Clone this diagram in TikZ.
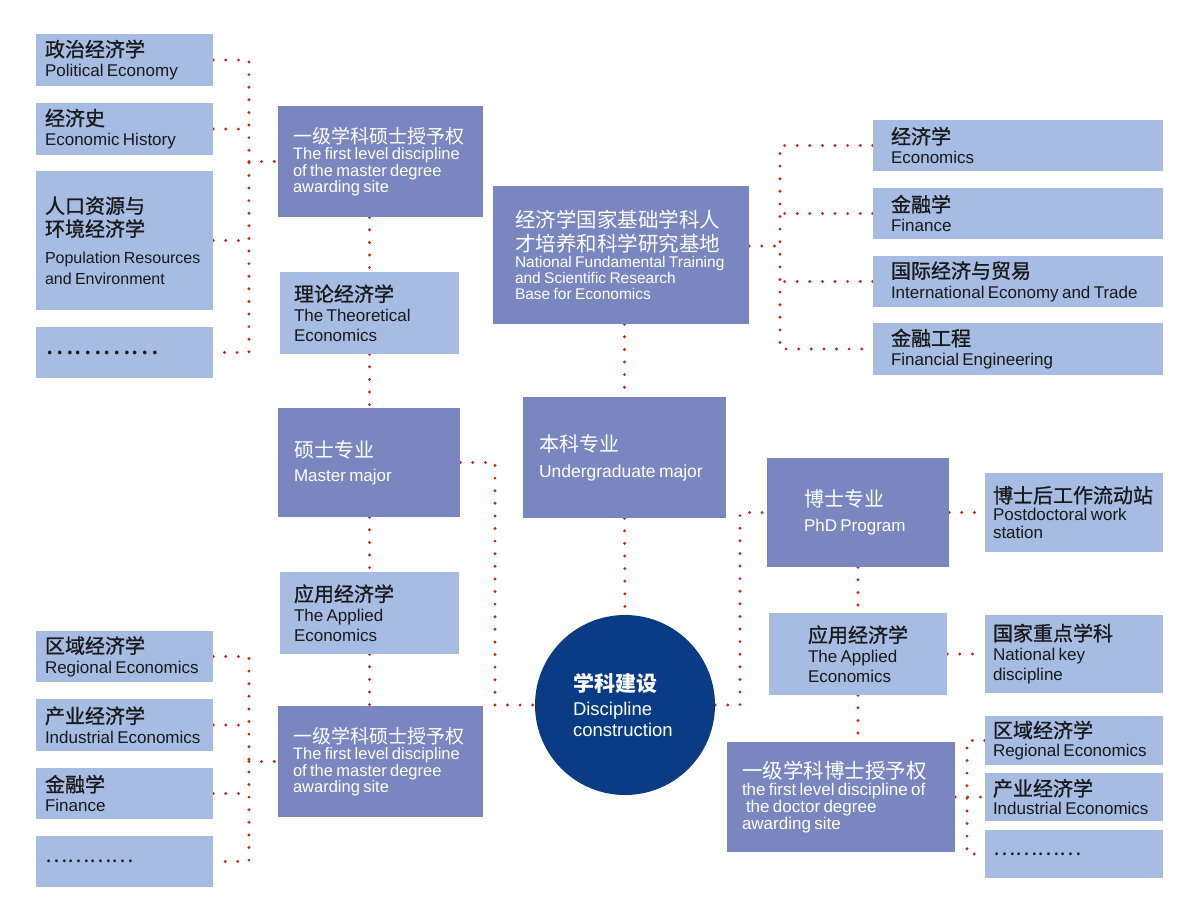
\documentclass[tikz,border=0pt]{standalone}
\usepackage{fontspec}
\setmainfont{Liberation Sans}
\newfontfamily\cjk{Noto Sans CJK SC}
\newfontfamily\cjkm[FakeBold=1]{Noto Sans CJK SC}
\usetikzlibrary{backgrounds}

\definecolor{boxdark}{HTML}{7A86C0}
\definecolor{boxlight}{HTML}{A6BCE3}
\definecolor{circblue}{HTML}{0A3C85}
\definecolor{dotred}{HTML}{C4261C}

% one line of Chinese, one block of English
\newcommand{\zh}[1]{{\cjkm\fontsize{20pt}{23pt}\selectfont #1\par}}
\newcommand{\zd}[1]{{\cjk\fontsize{20pt}{23pt}\selectfont #1\par}}
\newcommand{\en}[1]{{\fontsize{17pt}{20pt}\selectfont #1\par}}
\newcommand{\ed}[1]{{\fontsize{16.5pt}{16.5pt}\selectfont #1\par}}
\newcommand{\more}[1]{{\cjk\fontsize{#1}{#1}\selectfont …………\par}}

\begin{document}
\begin{tikzpicture}[x=1pt,y=-1pt,
  lbox/.style={fill=boxlight,text=black!90,align=left,inner sep=0pt,
    font=\parskip0pt\parindent0pt\hyphenpenalty10000},
  dbox/.style={fill=boxdark,text=white,align=left,inner sep=0pt,
    font=\parskip0pt\parindent0pt\hyphenpenalty10000},
  link/.style={draw=dotred,line width=3.2pt,line cap=round,
    dash pattern=on 0pt off 12.6pt}]
  \useasboundingbox (0,0) rectangle (1200,919);

  % left, upper group
  \node[lbox,minimum width=177pt,minimum height=52pt,text width=159pt] (pol) at (124.5,60)
    {\zh{政治经济学}\en{Political Economy}};
  \node[lbox,minimum width=177pt,minimum height=52pt,text width=159pt] (his) at (124.5,129)
    {\zh{经济史}\en{Economic History}};
  \node[lbox,minimum width=177pt,minimum height=139pt,text width=159pt] (pop) at (124.5,240.5)
    {\zh{人口资源与\\环境经济学}\vspace{6pt}{\fontsize{16pt}{21pt}\selectfont Population Resources\\and Environment\par}};
  \node[lbox,minimum width=177pt,minimum height=51pt,text width=159pt] (etc1) at (124.5,352.5)
    {\more{27pt}};

  % left, lower group
  \node[lbox,minimum width=177pt,minimum height=51pt,text width=159pt] (reg1) at (124.5,656.5)
    {\zh{区域经济学}\en{Regional Economics}};
  \node[lbox,minimum width=177pt,minimum height=52pt,text width=159pt] (ind1) at (124.5,725)
    {\zh{产业经济学}\en{Industrial Economics}};
  \node[lbox,minimum width=177pt,minimum height=51pt,text width=159pt] (fin1) at (124.5,793.5)
    {\zh{金融学}\en{Finance}};
  \node[lbox,minimum width=177pt,minimum height=51pt,text width=159pt] (etc2) at (124.5,861.5)
    {\more{21pt}};

  % master column
  \node[dbox,minimum width=205pt,minimum height=111pt,text width=175pt] (ms1) at (380.5,161.5)
    {{\cjk\fontsize{19pt}{24pt}\selectfont 一级学科硕士授予权\par}\ed{The first level discipline\\of the master degree\\awarding site}};
  \node[lbox,minimum width=179pt,minimum height=82pt,text width=151pt] (the) at (369.5,313)
    {\zh{理论经济学}\en{The Theoretical\\Economics}};
  \node[dbox,minimum width=182pt,minimum height=109pt,text width=150pt] (mas) at (369,462.5)
    {\zd{硕士专业}\vspace{4pt}\en{Master major}};
  \node[lbox,minimum width=179pt,minimum height=82pt,text width=151pt] (app1) at (369.5,613)
    {\zh{应用经济学}\en{The Applied\\Economics}};
  \node[dbox,minimum width=205pt,minimum height=111pt,text width=175pt] (ms2) at (380.5,761.5)
    {{\cjk\fontsize{19pt}{24pt}\selectfont 一级学科硕士授予权\par}\ed{The first level discipline\\of the master degree\\awarding site}};

  % centre column
  \node[dbox,minimum width=256pt,minimum height=138pt,text width=212pt] (base) at (621,255)
    {{\cjk\fontsize{20.5pt}{24pt}\selectfont 经济学国家基础学科人\\才培养和科学研究基地\par}{\fontsize{15.5pt}{16pt}\selectfont National Fundamental Training\\and Scientific Research\\Base for Economics\par}};
  \node[dbox,minimum width=203pt,minimum height=121pt,text width=171pt] (und) at (624.5,457.5)
    {\zd{本科专业}\vspace{5pt}{\fontsize{17.5pt}{21pt}\selectfont Undergraduate major\par}};
  \node[circle,fill=circblue,text=white,minimum size=180pt,inner sep=0pt,
    text width=104pt,align=left,font=\parskip0pt\parindent0pt] (dis) at (625,705)
    {{\cjk\bfseries\fontsize{21pt}{24pt}\selectfont 学科建设\par}\vspace{3pt}{\fontsize{18.5pt}{21pt}\selectfont Discipline\\construction\par}};

  % right, upper group
  \node[lbox,minimum width=290pt,minimum height=51pt,text width=254pt] (eco) at (1018,145.5)
    {\zh{经济学}\en{Economics}};
  \node[lbox,minimum width=290pt,minimum height=51pt,text width=254pt] (fin2) at (1018,213.5)
    {\zh{金融学}\en{Finance}};
  \node[lbox,minimum width=290pt,minimum height=51pt,text width=254pt] (int) at (1018,281.5)
    {\zh{国际经济与贸易}\en{International Economy and Trade}};
  \node[lbox,minimum width=290pt,minimum height=52pt,text width=254pt] (eng) at (1018,349)
    {\zh{金融工程}\en{Financial Engineering}};

  % doctor column
  \node[dbox,minimum width=182pt,minimum height=109pt,text width=108pt] (phd) at (858,512.5)
    {\zd{博士专业}\vspace{5pt}\en{PhD Program}};
  \node[lbox,minimum width=178pt,minimum height=79pt,text width=162pt] (post) at (1074,512.5)
    {\zh{博士后工作流动站}{\fontsize{17pt}{18pt}\selectfont Postdoctoral work\\station\par}};
  \node[lbox,minimum width=178pt,minimum height=82pt,text width=100pt] (app2) at (858,654)
    {\zh{应用经济学}\en{The Applied\\Economics}};
  \node[lbox,minimum width=178pt,minimum height=78pt,text width=162pt] (key) at (1074,654)
    {\zh{国家重点学科}\en{National key\\discipline}};
  \node[dbox,minimum width=228pt,minimum height=110pt,text width=198pt] (doc) at (841,797)
    {{\cjk\fontsize{20.5pt}{24pt}\selectfont 一级学科博士授予权\par}{\fontsize{17pt}{17pt}\selectfont the first level discipline of\\\hspace*{4pt}the doctor degree\\awarding site\par}};

  % right, lower group
  \node[lbox,minimum width=178pt,minimum height=49pt,text width=162pt] (reg2) at (1074,740.5)
    {\zh{区域经济学}{\fontsize{17pt}{19pt}\selectfont Regional Economics\par}};
  \node[lbox,minimum width=178pt,minimum height=48pt,text width=162pt] (ind2) at (1074,797)
    {\zh{产业经济学}{\fontsize{17pt}{19pt}\selectfont Industrial Economics\par}};
  \node[lbox,minimum width=178pt,minimum height=48pt,text width=162pt] (etc3) at (1074,854)
    {\more{21pt}};

  \coordinate (lb1) at (249,161.5);
  \coordinate (lb2) at (249,761.5);
  \coordinate (rb1) at (780,246);
  \coordinate (rb2) at (967,797);
  \coordinate (jl) at (495,705);
  \coordinate (jr) at (740,705);

  \begin{scope}[on background layer]
    \draw[link] (pol.east) -| (etc1.east -| lb1) -- (etc1.east);
    \draw[link] (his.east) -- (his.east -| lb1);
    \draw[link] (pop.east) -- (pop.east -| lb1);
    \draw[link] (lb1) -- (ms1.west);

    \draw[link] (reg1.east) -| (etc2.east -| lb2) -- (etc2.east);
    \draw[link] (ind1.east) -- (ind1.east -| lb2);
    \draw[link] (fin1.east) -- (fin1.east -| lb2);
    \draw[link] (lb2) -- (ms2.west);

    \draw[link] (the.north |- ms1.south) -- (the.north);
    \draw[link] (the.south) -- (the.south |- mas.north);
    \draw[link] (app1.north |- mas.south) -- (app1.north);
    \draw[link] (app1.south) -- (app1.south |- ms2.north);

    \draw[link] (eco.west) -| (eng.west -| rb1) -- (eng.west);
    \draw[link] (fin2.west) -- (fin2.west -| rb1);
    \draw[link] (int.west) -- (int.west -| rb1);
    \draw[link] (base.east |- rb1) -- (rb1);

    \draw[link] (und.north |- base.south) -- (und.north);
    \draw[link] (und.south) -- (dis.north);
    \draw[link] (mas.east) -| (jl) -- (dis.west);
    \draw[link] (dis.east) -- (jr) |- (phd.west);

    \draw[link] (phd.east) -- (post.west);
    \draw[link] (phd.south) -- (app2.north);
    \draw[link] (app2.east) -- (key.west);
    \draw[link] (app2.south) -- (app2.south |- doc.north);

    \draw[link] (reg2.west) -| (etc3.west -| rb2) -- (etc3.west);
    \draw[link] (doc.east) -- (ind2.west);
  \end{scope}
\end{tikzpicture}
\end{document}
